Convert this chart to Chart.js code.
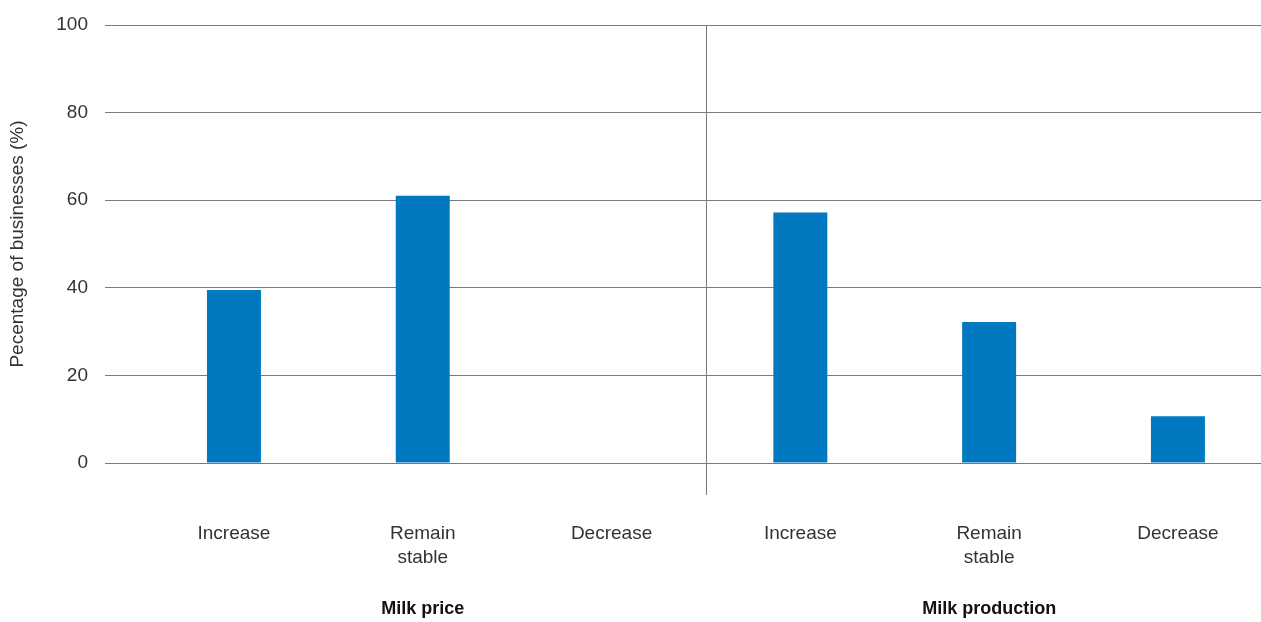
<!DOCTYPE html>
<html>
<head>
<meta charset="utf-8">
<script src="https://cdn.jsdelivr.net/npm/chart.js@4/dist/chart.umd.min.js"></script>
<style>
  html, body { margin: 0; padding: 0; background: #fff; }
  #wrap { width: 1261px; height: 622px; position: relative; }
</style>
</head>
<body>
<div id="wrap"><canvas id="chart"></canvas></div>
<script>
  // data
  const categories = [['Increase'], ['Remain', 'stable'], ['Decrease'], ['Increase'], ['Remain', 'stable'], ['Decrease']];
  const groups = ['Milk price', 'Milk production'];
  const values = [39.5, 61, 0, 57.2, 32.2, 10.7];
  const yTicks = [0, 20, 40, 60, 80, 100];

  const FONT = '"Liberation Sans", Arial, sans-serif';
  const GRID = '#7a7a7a';
  const TEXT = '#333';

  // divider between the two groups + bold group captions
  const groupPlugin = {
    id: 'groups',
    afterDraw(chart) {
      const { ctx, scales: { x, y } } = chart;
      ctx.save();
      const divX = Math.round(x.getPixelForValue(2.5)) + 0.5;
      ctx.strokeStyle = GRID;
      ctx.lineWidth = 1;
      ctx.beginPath();
      ctx.moveTo(divX, y.getPixelForValue(100));
      ctx.lineTo(divX, y.getPixelForValue(0) + 32);
      ctx.stroke();

      ctx.fillStyle = '#111';
      ctx.font = 'bold 18px ' + FONT;
      ctx.textAlign = 'center';
      ctx.textBaseline = 'middle';
      groups.forEach((g, i) => {
        ctx.fillText(g, x.getPixelForValue(i * 3 + 1), 609);
      });
      ctx.restore();
    }
  };

  new Chart(document.getElementById('chart'), {
    type: 'bar',
    data: {
      datasets: [{
        data: values.map((v, i) => ({ x: i, y: v })),
        backgroundColor: '#0079c1',
        borderWidth: 0,
        barPercentage: 0.286,
        categoryPercentage: 1
      }]
    },
    options: {
      responsive: true,
      maintainAspectRatio: false,
      animation: false,
      layout: { padding: { top: 25, right: 0, left: 0, bottom: 0 } },
      plugins: { legend: { display: false }, tooltip: { enabled: false } },
      scales: {
        x: {
          type: 'linear',
          offset: false,
          min: -0.683,
          max: 5.44,
          grid: { display: false },
          border: { display: false },
          afterBuildTicks: (s) => { s.ticks = categories.map((_, i) => ({ value: i })); },
          afterFit: (s) => { s.height = 159; s.paddingLeft = 0; s.paddingRight = 0; },
          ticks: {
            autoSkip: false,
            maxRotation: 0,
            padding: 51,
            color: TEXT,
            font: { family: FONT, size: 19, lineHeight: 1.25 },
            callback: (v) => categories[v]
          }
        },
        y: {
          min: 0,
          max: 100,
          afterBuildTicks: (s) => { s.ticks = yTicks.map(v => ({ value: v })); },
          afterFit: (s) => { s.width = 105; s.paddingTop = 0; s.paddingBottom = 0; },
          grid: { color: GRID, lineWidth: 1, drawTicks: false },
          border: { display: false },
          ticks: {
            padding: 17,
            color: TEXT,
            font: { family: FONT, size: 19 }
          },
          title: {
            display: true,
            text: 'Pecentage of businesses (%)',
            color: TEXT,
            font: { family: FONT, size: 19 },
            padding: { top: 6, bottom: 0 }
          }
        }
      }
    },
    plugins: [groupPlugin]
  });
</script>
</body>
</html>
